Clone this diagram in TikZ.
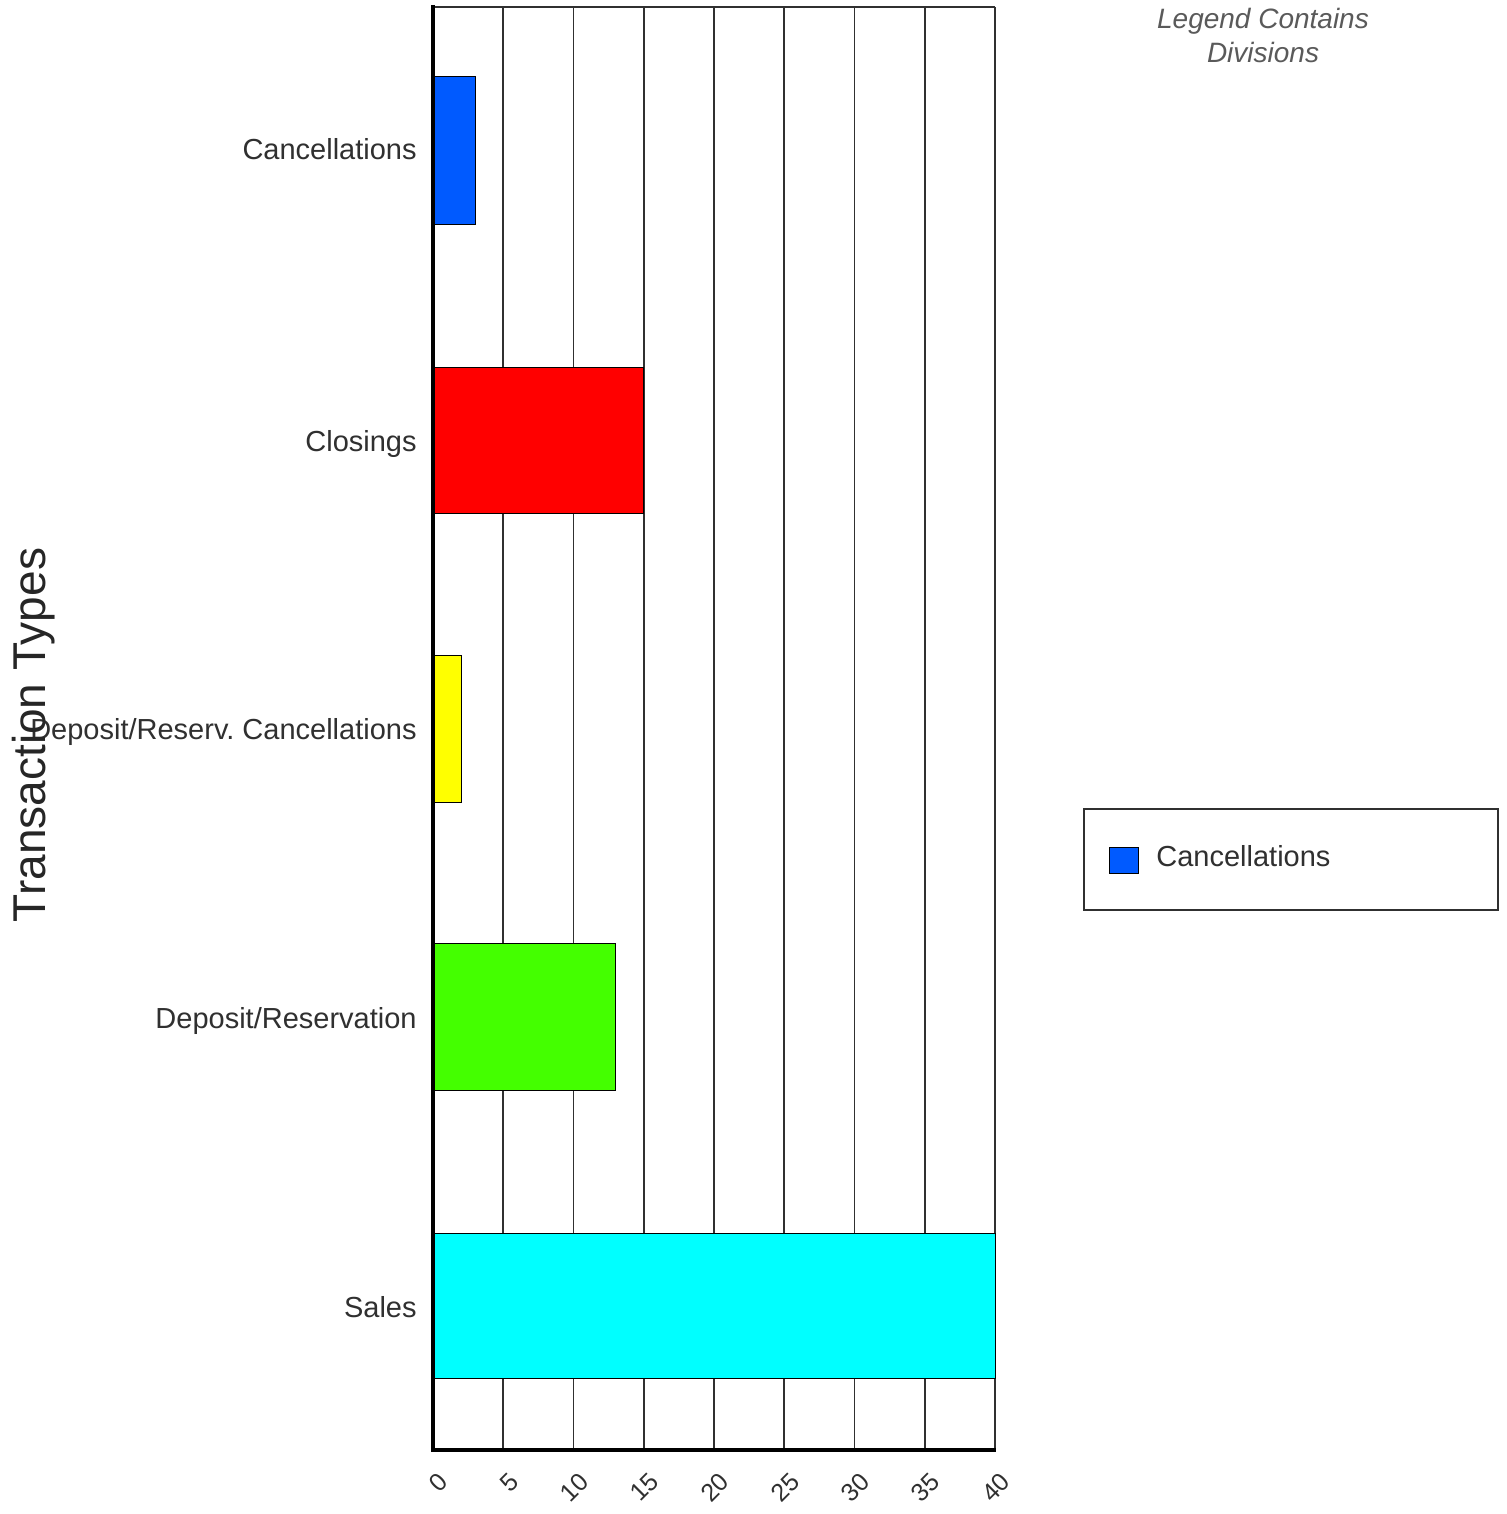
\documentclass[tikz,border=0pt]{standalone}
\usepackage{fontspec}
\setmainfont{Liberation Sans}
\frenchspacing
\definecolor{txtgray}{HTML}{303030}
\definecolor{ttlgray}{HTML}{5A5A5A}
\definecolor{gridgray}{HTML}{303030}
\definecolor{cblue}{HTML}{005AFF}
\definecolor{cred}{HTML}{FF0000}
\definecolor{cyellow}{HTML}{FFFF00}
\definecolor{cgreen}{HTML}{44FF00}
\definecolor{ccyan}{HTML}{00FFFF}
\begin{document}
\begin{tikzpicture}[x=0.5pt,y=-0.5pt,
  lbl/.style={font=\fontsize{14.5pt}{17pt}\selectfont, text=txtgray, inner sep=0pt},
  ticklbl/.style={font=\fontsize{12.5pt}{14pt}\selectfont, text=txtgray, inner sep=0pt, rotate=45, anchor=east},
  barbox/.style={draw=black, line width=0.5pt},
  gridline/.style={draw=gridgray, line width=0.8pt},
  axisline/.style={draw=black, line width=2pt}]
\useasboundingbox (0,0) rectangle (1507,1514);
\fill[white] (0,0) rectangle (1507,1514);
% grid
\foreach \i in {0,...,8} \draw[gridline] ({433+\i*70.25},7) -- ({433+\i*70.25},1450);
\draw[gridline] (433,7) -- (995,7);
% bars
\filldraw[barbox, fill=cblue]   (433,77)   rectangle (475.15,225);
\filldraw[barbox, fill=cred]    (433,367)  rectangle (643.75,513);
\filldraw[barbox, fill=cyellow] (433,655)  rectangle (461.1,802);
\filldraw[barbox, fill=cgreen]  (433,943)  rectangle (615.65,1090);
\filldraw[barbox, fill=ccyan]   (433,1233) rectangle (995,1378);
% axes
\coordinate (axtop) at (433,5);
\coordinate (axorig) at (433,1450);
\coordinate (axright) at (996,1450);
\draw[axisline] (axtop) -- (axorig) -- (axright);
% tick labels
\foreach \i/\v in {0/0,1/5,2/10,3/15,4/20,5/25,6/30,7/35,8/40}
  \node[ticklbl] (tick\i) at ({433+\i*70.25+11},1477) {\v};
% category labels
\node[lbl, anchor=base east] (cat1) at (417,160) {Cancellations};
\node[lbl, anchor=base east] (cat2) at (417,451) {Closings};
\node[lbl, anchor=base east] (cat3) at (417,739) {Deposit/Reserv. Cancellations};
\node[lbl, anchor=base east] (cat4) at (417,1028) {Deposit/Reservation};
\node[lbl, anchor=base east] (cat5) at (417,1317) {Sales};
% axis title
\node[font=\fontsize{23pt}{27pt}\selectfont, text=black!85, inner sep=0pt, rotate=90, anchor=base] (ytitle) at (45,735) {Transaction Types};
% legend title
\node[lbl, text=ttlgray, font=\fontsize{14pt}{17pt}\selectfont\itshape, anchor=base] (lt1) at (1263,29) {Legend Contains};
\node[lbl, text=ttlgray, font=\fontsize{14pt}{17pt}\selectfont\itshape, anchor=base] (lt2) at (1263,63) {Divisions};
% legend
\draw[draw=gridgray, line width=0.8pt] (1084,809) rectangle (1498,910);
\filldraw[barbox, fill=cblue] (1109,847) rectangle (1138,873);
\node[lbl, anchor=base west] (leg1) at (1156,866) {Cancellations};
\end{tikzpicture}
\end{document}
